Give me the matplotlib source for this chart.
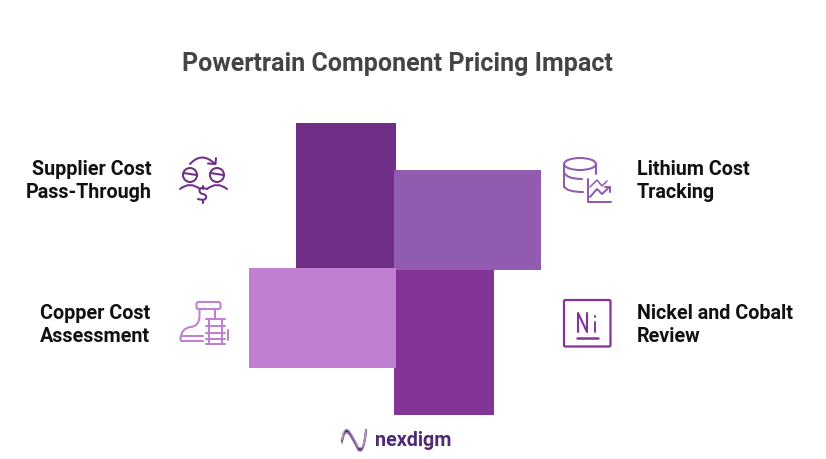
"""Powertrain pricing pinwheel diagram with line icons."""
import numpy as np
import matplotlib
matplotlib.use('Agg')
import matplotlib.pyplot as plt
from matplotlib.path import Path
from matplotlib.patches import Circle, Ellipse, FancyBboxPatch, PathPatch

plt.rcParams['font.family'] = ['Roboto', 'DejaVu Sans']

TITLE = 'Powertrain Component Pricing Impact'
LABELS = ['Supplier Cost\nPass-Through', 'Lithium Cost\nTracking',
          'Copper Cost\nAssessment', 'Nickel and Cobalt\nReview']
# arm length of each block, out from the centre
LENGTHS = [145, 147, 147, 147]
COLORS = ['#6f2f87', '#915bb0', '#c17fd1', '#833597']
LOGO = 'nexdigm'

LW = 1.45

fig = plt.figure(figsize=(8.26, 4.6), dpi=100)
ax = fig.add_axes([0, 0, 1, 1])
ax.set_xlim(0, 826)
ax.set_ylim(460, 0)
ax.axis('off')

# ===== Blocks =====
ax.bar(346, -LENGTHS[0], width=100, bottom=268.5, color=COLORS[0], zorder=2)
ax.barh(220.5, LENGTHS[1], height=100, left=394, color=COLORS[1], zorder=3)
ax.barh(318.5, -LENGTHS[2], height=100, left=396, color=COLORS[2], zorder=3)
ax.bar(444, LENGTHS[3], width=100, bottom=268.5, color=COLORS[3], zorder=2)

# ===== Text =====
ax.text(397.5, 64, TITLE, ha='center', va='center', fontsize=18, fontweight='bold', color='#444444')
kw = dict(va='center', fontsize=14.2, fontweight='bold', color='#111111', linespacing=1.33)
ax.text(152, 181, LABELS[0], ha='right', multialignment='right', **kw)
ax.text(637, 181, LABELS[1], ha='left', **kw)
ax.text(150, 325, LABELS[2], ha='right', multialignment='right', **kw)
ax.text(637, 325, LABELS[3], ha='left', **kw)


def stroke(xs, ys, color, lw=LW):
    ax.plot(xs, ys, color=color, lw=lw, solid_capstyle='round', solid_joinstyle='round', zorder=4)


def curve(pts, color, lw=LW):
    # pts: start, then control/end pairs (quadratic segments)
    codes = [Path.MOVETO] + [Path.CURVE3] * (len(pts) - 1)
    ax.add_patch(PathPatch(Path(pts, codes), fill=False, ec=color, lw=lw, capstyle='round', zorder=4))


# ===== Supplier icon =====
c = COLORS[0]
for cx in (190, 217):
    ax.add_patch(Circle((cx, 176), 7, fill=False, ec=c, lw=LW, zorder=4))
    stroke([cx - 6.5, cx + 6.5], [174, 176], c)
    curve([(cx - 10, 190), (cx, 182), (cx + 10, 190)], c)
curve([(190, 165), (202, 152), (215, 165)], c)
stroke([208, 215.5, 216], [164.5, 165, 159], c)
curve([(207, 190), (199, 187), (199.5, 192), (200, 195), (203, 195), (207, 196), (206, 199), (205, 202), (198, 200)], c)
stroke([202.7, 202.7], [187, 190], c)
stroke([202.7, 202.7], [201, 204], c)

# ===== Copper boot icon =====
c = COLORS[2]
ax.add_patch(FancyBboxPatch((196.5, 303), 24, 7, boxstyle='round,pad=0,rounding_size=2', fill=False, ec=c, lw=LW, zorder=4))
curve([(199.5, 310), (199.5, 314), (199.5, 318), (199, 327), (191, 328), (181, 329), (180.5, 340)], c)
stroke([180.5, 181, 203], [340, 342, 342], c)
stroke([181.5, 203], [336.5, 336.5], c)
stroke([215, 215], [310, 320], c)
stroke([209, 209], [320, 345], c)
stroke([222, 222], [320, 345], c)
for y in (320, 327, 333.5, 340, 345):
    stroke([206, 225], [y, y], c)
stroke([228, 228], [331, 341], c)

# ===== Lithium icon =====
c = COLORS[1]
ax.add_patch(Ellipse((580, 165), 32, 12, fill=False, ec=c, lw=LW, zorder=4))
stroke([564, 564], [165, 188], c)
stroke([596, 596], [165, 175], c)
curve([(564, 173), (566, 180), (582, 180)], c)
curve([(564, 187), (566, 193), (583, 193)], c)
stroke([588, 588, 610.5], [180, 203, 203], c)
stroke([590, 597, 602, 609.5], [198, 190, 195, 188], c)
stroke([605, 610, 610], [188, 188, 193], c)
stroke([590, 597, 602, 607], [188, 181, 187, 182], c, lw=1.1)

# ===== Nickel icon =====
c = COLORS[3]
ax.add_patch(FancyBboxPatch((564, 301), 46.5, 46.5, boxstyle='round,pad=0,rounding_size=1.5', fill=False, ec=c, lw=1.6, zorder=4))
stroke([578, 578, 587, 587], [333, 314, 333, 314], c, lw=1.5)
stroke([595, 595], [323, 333], c, lw=1.4)
stroke([595, 595], [316.5, 318], c, lw=1.4)
stroke([577, 598], [338.5, 338.5], c, lw=1.8)

# ===== Logo =====
for dy, col, w in ((0, '#4a2a6a', 1.5), (2, '#8a6aa0', 1.1), (-1.5, '#b9a3c6', 0.9)):
    curve([(342, 442 + dy), (344, 428 + dy), (349, 433 + dy), (354, 440 + dy), (358, 449 + dy),
           (364, 455 + dy), (366, 431)], col, lw=w)
ax.text(375, 441, LOGO, ha='left', va='center', fontsize=14.2, fontweight='bold', color='#4f2a74')

fig.savefig('out.png', dpi=100)
